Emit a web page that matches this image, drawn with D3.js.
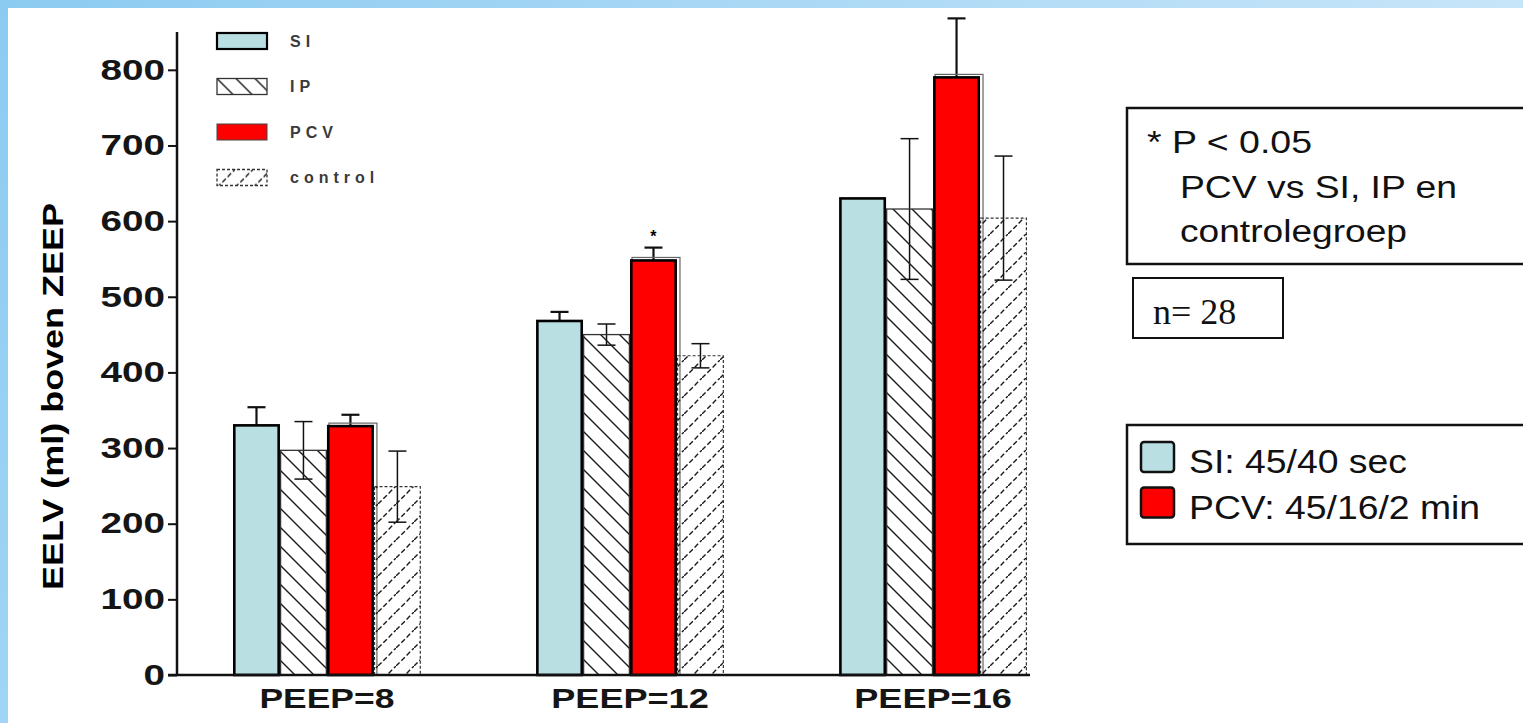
<!DOCTYPE html>
<html>
<head>
  <meta charset="UTF-8">
  <title>EELV boven ZEEP</title>
  <script src="https://cdn.jsdelivr.net/npm/d3@7"></script>
  <style>
    body { margin: 0; background: #fff; }
    svg { display: block; }
  </style>
</head>
<body>

<div class="chart"></div>

<script>

  // data
  var categories = ['PEEP=8', 'PEEP=12', 'PEEP=16'];
  var series = ['SI', 'IP', 'PCV', 'control'];
  var siValues = [330, 468, 630];
  var ipValues = [297, 450, 616];
  var pcvValues = [329, 548, 790];
  var controlValues = [249, 422, 604];
  var siErrors = [24, 12, 0];
  var ipErrors = [38, 14, 93];
  var pcvErrors = [15, 17, 78];
  var controlErrors = [47, 16, 82];
  var pcvSignificance = ['', '*', ''];
  var yTicks = [0, 100, 200, 300, 400, 500, 600, 700, 800];
  var yLabel = 'EELV (ml) boven ZEEP';
  var noteLines = ['* P < 0.05', 'PCV vs SI, IP en', 'controlegroep'];
  var nLabel = 'n= 28';
  var protocolLabels = ['SI: 45/40 sec', 'PCV: 45/16/2 min'];

  var valuesBySeries = { SI: siValues, IP: ipValues, PCV: pcvValues, control: controlValues };
  var errorsBySeries = { SI: siErrors, IP: ipErrors, PCV: pcvErrors, control: controlErrors };

  var rows = [];
  categories.forEach(function (c, i) {
    series.forEach(function (s) {
      rows.push({ cat: c, series: s, value: valuesBySeries[s][i], err: errorsBySeries[s][i],
                  sig: s === 'PCV' ? pcvSignificance[i] : '' });
    });
  });

  var W = 1523, H = 723;
  var ARIAL = "'Liberation Sans', Arial, Helvetica, sans-serif";

  var svg = d3.select('.chart')
    .append('svg')
      .attr('width', W)
      .attr('height', H);

  var defs = svg.append('defs');

  var gTop = defs.append('linearGradient').attr('id', 'frameTop')
    .attr('x1', 0).attr('x2', 1).attr('y1', 0).attr('y2', 0);
  gTop.append('stop').attr('offset', 0).attr('stop-color', '#8ccbf1');
  gTop.append('stop').attr('offset', 1).attr('stop-color', '#c7e5f9');

  var gLeft = defs.append('linearGradient').attr('id', 'frameLeft')
    .attr('x1', 0).attr('x2', 0).attr('y1', 0).attr('y2', 1);
  gLeft.append('stop').attr('offset', 0).attr('stop-color', '#8ccbf1');
  gLeft.append('stop').attr('offset', 1).attr('stop-color', '#a0d5f5');

  function hatch(id, size, d, dash) {
    var p = defs.append('pattern')
      .attr('id', id)
      .attr('patternUnits', 'userSpaceOnUse')
      .attr('width', size)
      .attr('height', size);
    p.append('path')
      .attr('d', d)
      .attr('fill', 'none')
      .attr('stroke', '#1a1a1a')
      .attr('stroke-width', 1.4)
      .attr('stroke-dasharray', dash);
  }
  hatch('hatchIP', 19, 'M0,0L19,19M-4,15L4,23M15,-4L23,4', null);
  hatch('hatchControl', 18, 'M0,18L18,0M-4,4L4,-4M14,22L22,14', '5,2.5');

  var style = {
    SI:      { fill: '#b9dfe3', stroke: '#000', width: 2.6, dash: null },
    IP:      { fill: 'url(#hatchIP)', stroke: '#333', width: 1.3, dash: null },
    PCV:     { fill: '#ff0000', stroke: '#000', width: 2.6, dash: null },
    control: { fill: 'url(#hatchControl)', stroke: '#333', width: 1.2, dash: '3,2' }
  };

  // frame
  svg.append('rect').attr('x', 0).attr('y', 0).attr('width', W).attr('height', 8).attr('fill', 'url(#frameTop)');
  svg.append('rect').attr('x', 0).attr('y', 0).attr('width', 8).attr('height', H).attr('fill', 'url(#frameLeft)');

  // scales
  var x0 = d3.scaleBand()
    .domain(categories)
    .range([233, 1027])
    .paddingInner(0.38)
    .paddingOuter(0);
  var x1 = d3.scaleBand()
    .domain(series)
    .range([0, x0.bandwidth()]);
  var y = d3.scaleLinear()
    .domain([0, 850])
    .range([675, 32]);

  // Y axis
  var yAxis = d3.axisLeft(y)
    .tickValues(yTicks)
    .tickSize(9)
    .tickPadding(3)
    .tickSizeOuter(0);
  var gy = svg.append('g')
    .attr('transform', 'translate(177,0)')
    .call(yAxis);
  gy.select('.domain').remove();
  gy.selectAll('.tick line').attr('stroke', '#111').attr('stroke-width', 2);
  gy.selectAll('.tick text')
    .attr('font-family', ARIAL)
    .attr('font-weight', 'bold')
    .attr('font-size', 29)
    .attr('fill', '#151515')
    .attr('textLength', d => String(d).length * 21.5)
    .attr('lengthAdjust', 'spacingAndGlyphs');

  svg.append('line')
    .attr('x1', 177).attr('x2', 177)
    .attr('y1', y(850)).attr('y2', y(0) + 1)
    .attr('stroke', '#111').attr('stroke-width', 2.5);

  svg.append('text')
    .attr('transform', 'translate(63,' + ((y(850) + y(0)) / 2 + 43) + ') rotate(-90)')
    .attr('text-anchor', 'middle')
    .attr('font-family', ARIAL)
    .attr('font-weight', 'bold')
    .attr('font-size', 30)
    .attr('textLength', 387)
    .attr('lengthAdjust', 'spacingAndGlyphs')
    .text(yLabel);

  // error bars (drawn below the bars so solid bars hide the lower whisker)
  var cap = 9;
  var eb = svg.append('g').selectAll('.err')
    .data(rows.filter(d => d.err > 0))
    .enter()
    .append('g')
      .attr('class', 'err')
      .attr('stroke', '#111')
      .attr('stroke-width', d => style[d.series].width > 2 ? 2.2 : 1.5)
      .attr('transform', d => `translate(${x0(d.cat) + x1(d.series) + x1.bandwidth() / 2}, 0)`);
  eb.append('line')
    .attr('x1', 0).attr('x2', 0)
    .attr('y1', d => y(d.value - d.err))
    .attr('y2', d => y(d.value + d.err));
  eb.append('line')
    .attr('x1', -cap).attr('x2', cap)
    .attr('y1', d => y(d.value + d.err))
    .attr('y2', d => y(d.value + d.err));
  eb.append('line')
    .attr('x1', -cap).attr('x2', cap)
    .attr('y1', d => y(d.value - d.err))
    .attr('y2', d => y(d.value - d.err));

  // faint outline behind the red bars
  svg.append('g').selectAll('.ghost')
    .data(rows.filter(d => d.series === 'PCV'))
    .enter()
    .append('rect')
      .attr('x', d => x0(d.cat) + x1(d.series) + 2)
      .attr('y', d => y(d.value) - 3)
      .attr('width', x1.bandwidth() + 1)
      .attr('height', d => y(0) - y(d.value) + 3)
      .attr('fill', 'none')
      .attr('stroke', '#666')
      .attr('stroke-width', 1.2);

  // bars
  svg.append('g').selectAll('.bar')
    .data(rows)
    .enter()
    .append('rect')
      .attr('class', 'bar')
      .attr('x', d => x0(d.cat) + x1(d.series) + (style[d.series].width > 2 ? 1.3 : 0.6))
      .attr('y', d => y(d.value))
      .attr('width', d => x1.bandwidth() - (style[d.series].width > 2 ? 2.6 : 1.2))
      .attr('height', d => y(0) - y(d.value))
      .attr('fill', d => style[d.series].fill)
      .attr('stroke', d => style[d.series].stroke)
      .attr('stroke-width', d => style[d.series].width)
      .attr('stroke-dasharray', d => style[d.series].dash);

  // significance marks
  svg.append('g').selectAll('.sig')
    .data(rows.filter(d => d.sig))
    .enter()
    .append('text')
      .attr('x', d => x0(d.cat) + x1(d.series) + x1.bandwidth() / 2)
      .attr('y', d => y(d.value + d.err) - 6)
      .attr('text-anchor', 'middle')
      .attr('font-family', ARIAL)
      .attr('font-weight', 'bold')
      .attr('font-size', 16)
      .text(d => d.sig);

  // X axis
  svg.append('line')
    .attr('x1', 168).attr('x2', 1030)
    .attr('y1', y(0)).attr('y2', y(0))
    .attr('stroke', '#111').attr('stroke-width', 2.5);
  var gx = svg.append('g')
    .attr('transform', `translate(0, ${y(0)})`)
    .call(d3.axisBottom(x0).tickSize(0).tickPadding(13));
  gx.select('.domain').remove();
  gx.selectAll('.tick text')
    .attr('font-family', ARIAL)
    .attr('font-weight', 'bold')
    .attr('font-size', 28)
    .attr('fill', '#151515')
    .attr('textLength', d => d.length * 22.5)
    .attr('lengthAdjust', 'spacingAndGlyphs');

  // legend inside the chart
  var leg = svg.append('g').selectAll('.leg')
    .data(series)
    .enter()
    .append('g')
      .attr('class', 'leg')
      .attr('transform', (d, i) => `translate(217, ${33 + i * 45.5})`);
  leg.append('rect')
    .attr('width', 50)
    .attr('height', 16)
    .attr('fill', d => style[d].fill)
    .attr('stroke', d => d === 'PCV' ? '#444' : style[d].stroke)
    .attr('stroke-width', d => d === 'PCV' ? 1 : (style[d].width > 2 ? 2.2 : 1.3))
    .attr('stroke-dasharray', d => style[d].dash);
  leg.append('text')
    .attr('x', 73)
    .attr('y', 8)
    .attr('dy', '0.35em')
    .attr('font-family', ARIAL)
    .attr('font-weight', 'bold')
    .attr('font-size', 16)
    .attr('letter-spacing', 5)
    .attr('fill', '#3a3a3a')
    .text(d => d);

  // note box
  svg.append('rect')
    .attr('x', 1127).attr('y', 108)
    .attr('width', 420).attr('height', 156)
    .attr('fill', '#fff').attr('stroke', '#111').attr('stroke-width', 2.5);
  var noteLen = [165, 277, 227];
  svg.append('g').selectAll('.note')
    .data(noteLines)
    .enter()
    .append('text')
      .attr('x', (d, i) => i === 0 ? 1147 : 1180)
      .attr('y', (d, i) => 153 + i * 44.5)
      .attr('font-family', ARIAL)
      .attr('font-size', 31)
      .attr('fill', '#111')
      .attr('textLength', (d, i) => noteLen[i])
      .attr('lengthAdjust', 'spacingAndGlyphs')
      .text(d => d);

  svg.append('rect')
    .attr('x', 1133).attr('y', 278)
    .attr('width', 150).attr('height', 60)
    .attr('fill', '#fff').attr('stroke', '#111').attr('stroke-width', 2);
  svg.append('text')
    .attr('x', 1153).attr('y', 324)
    .attr('font-family', "'Liberation Serif', 'Times New Roman', serif")
    .attr('font-size', 36)
    .attr('fill', '#111')
    .text(nLabel);

  // protocol legend box
  svg.append('rect')
    .attr('x', 1127).attr('y', 425)
    .attr('width', 420).attr('height', 119)
    .attr('fill', '#fff').attr('stroke', '#111').attr('stroke-width', 2.5);
  var protoSeries = ['SI', 'PCV'];
  var protoLen = [218, 291];
  var pg = svg.append('g').selectAll('.proto')
    .data(protocolLabels)
    .enter()
    .append('g')
      .attr('transform', (d, i) => `translate(1141, ${442 + i * 45.5})`);
  pg.append('rect')
    .attr('width', 33).attr('height', 30).attr('rx', 3)
    .attr('fill', (d, i) => style[protoSeries[i]].fill)
    .attr('stroke', '#111').attr('stroke-width', 2.5);
  pg.append('text')
    .attr('x', 48).attr('y', 31)
    .attr('font-family', ARIAL)
    .attr('font-size', 34)
    .attr('fill', '#111')
    .attr('textLength', (d, i) => protoLen[i])
    .attr('lengthAdjust', 'spacingAndGlyphs')
    .text(d => d);

</script>

</body>
</html>
